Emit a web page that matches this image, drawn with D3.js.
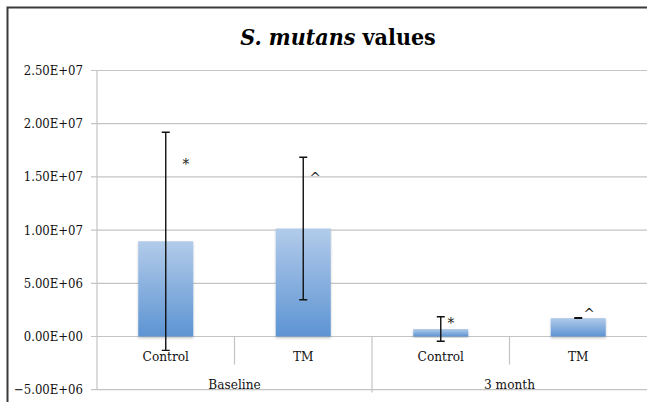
<!DOCTYPE html>
<meta charset="UTF-8">
<style>
body { margin: 0; background: #fff; }
svg { font-family: "DejaVu Serif Condensed", "DejaVu Serif", serif; }
.grid { stroke: #c4c4c4; stroke-width: 1.2px; }
.err { stroke: #111; stroke-width: 1.4px; fill: none; }
</style>
<body>
<script src="https://d3js.org/d3.v7.min.js"></script>
<script>

// data
var categories = ["Control", "TM", "Control", "TM"];
var groups = ["Baseline", "3 month"];
var means = [8.95e6, 1.015e7, 7.0e5, 1.73e6];
var errors = [1.025e7, 6.7e6, 1.15e6, 3e4];
var marks = ["*", "^", "*", "^"];
var markLevels = [1.65e7, 1.54e7, 1.6e6, 2.6e6];
var yTickValues = [-5e6, 0, 5e6, 1e7, 1.5e7, 2e7, 2.5e7];

var W = 647, H = 402;
var margin = {left: 97, right: 0, top: 70.5, bottom: 12.3};

var svg = d3.select("body").append("svg")
    .attr("width", W).attr("height", H);

svg.append("rect").attr("width", W).attr("height", H).attr("fill", "#fff");

// outer chart border (only top and left show in the crop)
svg.append("rect")
    .attr("x", 7.5).attr("y", 7.5)
    .attr("width", 800).attr("height", 600)
    .attr("fill", "none").attr("stroke", "#3a3a3a").attr("stroke-width", 2);

var defs = svg.append("defs");
var grad = defs.append("linearGradient").attr("id", "barGrad")
    .attr("x1", 0).attr("y1", 0).attr("x2", 0).attr("y2", 1);
grad.append("stop").attr("offset", "0%").attr("stop-color", "#b2cbea");
grad.append("stop").attr("offset", "100%").attr("stop-color", "#5d94d3");

var shadow = defs.append("filter").attr("id", "shadow")
    .attr("x", "-20%").attr("y", "-20%").attr("width", "140%").attr("height", "140%");
shadow.append("feDropShadow").attr("dx", 0).attr("dy", 1.5)
    .attr("stdDeviation", 1.2).attr("flood-color", "#000").attr("flood-opacity", 0.25);

var y = d3.scaleLinear()
    .domain([-5e6, 2.5e7])
    .range([H - margin.bottom, margin.top]);

var x = d3.scaleBand()
    .domain(d3.range(categories.length))
    .range([margin.left, W - margin.right])
    .padding(0);

function fmtE(v) {
  if (v === 0) return "0.00E+00";
  var s = d3.format(".2e")(v);           // e.g. 2.50e+7
  var parts = s.split("e");
  var exp = parts[1];
  var sign = exp[0];
  var num = exp.slice(1);
  if (num.length < 2) num = "0" + num;
  return parts[0] + "E" + sign + num;
}

// horizontal gridlines
svg.append("g").selectAll("line").data(yTickValues).join("line")
    .attr("class", "grid")
    .attr("x1", margin.left - 6).attr("x2", W)
    .attr("y1", function(d) { return y(d); })
    .attr("y2", function(d) { return y(d); });

// y axis line
svg.append("line").attr("class", "grid")
    .attr("x1", margin.left).attr("x2", margin.left)
    .attr("y1", y(2.5e7)).attr("y2", y(-5e6));

// y tick labels
svg.append("g").selectAll("text").data(yTickValues).join("text")
    .attr("x", margin.left - 14)
    .attr("y", function(d) { return y(d); })
    .attr("dy", "0.35em")
    .attr("text-anchor", "end")
    .attr("fill", "#111")
    .style("font-size", "13px")
    .text(fmtE);

// category separators
var y0 = y(0);
var sepIdx = d3.range(1, categories.length);
svg.append("g").selectAll("line").data(sepIdx).join("line")
    .attr("class", "grid")
    .attr("x1", function(i) { return x(i); })
    .attr("x2", function(i) { return x(i); })
    .attr("y1", y0)
    .attr("y2", function(i) { return i % 2 === 0 ? y0 + 56 : y0 + 28; });

// bars
var bw = x.bandwidth() * 0.4;
svg.append("g").selectAll("rect").data(means).join("rect")
    .attr("x", function(d, i) { return x(i) + (x.bandwidth() - bw) / 2; })
    .attr("y", function(d) { return y(d); })
    .attr("width", bw)
    .attr("height", function(d) { return y0 - y(d); })
    .attr("fill", "url(#barGrad)")
    .attr("filter", "url(#shadow)");

// error bars
var cap = 4;
var eb = svg.append("g").selectAll("g").data(means).join("g")
    .attr("transform", function(d, i) { return "translate(" + (x(i) + x.bandwidth() / 2) + ",0)"; });
eb.append("path").attr("class", "err")
    .attr("d", function(d, i) {
      var t = y(d + errors[i]), b = y(d - errors[i]);
      return "M0," + t + "V" + b +
             "M" + (-cap) + "," + t + "H" + cap +
             "M" + (-cap) + "," + b + "H" + cap;
    });

// significance marks
var markDx = [20, 12, 10, 11];
svg.append("g").selectAll("text").data(marks).join("text")
    .attr("x", function(d, i) { return x(i) + x.bandwidth() / 2 + markDx[i]; })
    .attr("y", function(d, i) { return y(markLevels[i]); })
    .attr("dy", function(d) { return d === "*" ? "0.55em" : "0.7em"; })
    .attr("text-anchor", "middle")
    .attr("fill", "#222")
    .style("font-size", "15px")
    .text(function(d) { return d; });

// category labels
svg.append("g").selectAll("text").data(categories).join("text")
    .attr("x", function(d, i) { return x(i) + x.bandwidth() / 2; })
    .attr("y", y0 + 20)
    .attr("dy", "0.35em")
    .attr("text-anchor", "middle")
    .attr("fill", "#111")
    .style("font-size", "13.5px")
    .text(function(d) { return d; });

// group labels
svg.append("g").selectAll("text").data(groups).join("text")
    .attr("x", function(d, g) { return (x(g * 2) + x(g * 2 + 1) + x.bandwidth()) / 2; })
    .attr("y", y0 + 48)
    .attr("dy", "0.35em")
    .attr("text-anchor", "middle")
    .attr("fill", "#111")
    .style("font-size", "13.5px")
    .text(function(d) { return d; });

// title
var title = svg.append("text")
    .attr("x", 338).attr("y", 45)
    .attr("text-anchor", "middle")
    .attr("fill", "#000")
    .style("font-size", "23px")
    .style("font-weight", "bold");
title.append("tspan").style("font-style", "italic").text("S. mutans");
title.append("tspan").text(" values");

</script>
</body>
